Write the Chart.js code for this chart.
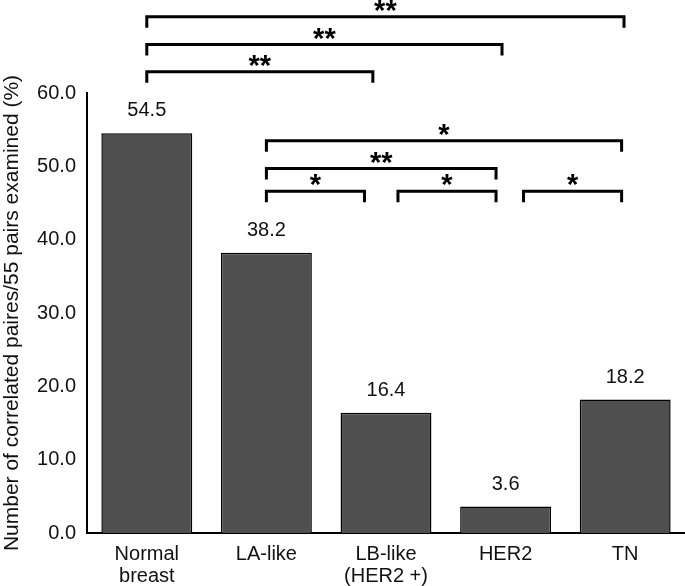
<!DOCTYPE html>
<html>
<head>
<meta charset="utf-8">
<script src="https://cdn.jsdelivr.net/npm/chart.js@4"></script>
<style>
  html, body { margin: 0; padding: 0; background: #fff; }
  #wrap { width: 685px; height: 586px; position: relative; }
</style>
</head>
<body>
<div id="wrap"><canvas id="grafico"></canvas></div>
<script>
// datos del grafico
const categorias = [['Normal', 'breast'], 'LA-like', ['LB-like', '(HER2 +)'], 'HER2', 'TN'];
const valores = [54.5, 38.2, 16.4, 3.6, 18.2];
const tituloEjeY = 'Number of correlated paires/55 pairs examined (%)';

// corchetes de significancia (posicion en indices de categoria, nivel en unidades del eje Y)
const corcheteDesde = [0, 0, 0, 1, 1, 1, 2.1, 3.15];
const corcheteHasta = [3.99, 2.97, 1.89, 3.97, 2.92, 1.82, 2.92, 3.97];
const corcheteNivel = [70.4, 66.6, 62.9, 53.5, 49.7, 46.6, 46.6, 46.6];
const corcheteTexto = ['**', '**', '**', '*', '**', '*', '*', '*'];

const fuente = '"Liberation Sans", Arial, sans-serif';

// etiquetas de valor sobre cada barra
const etiquetasValor = {
    id: 'etiquetasValor',
    afterDatasetsDraw(chart) {
        const ctx = chart.ctx;
        const meta = chart.getDatasetMeta(0);
        ctx.save();
        ctx.fillStyle = '#111';
        ctx.font = '20px ' + fuente;
        ctx.textAlign = 'center';
        ctx.textBaseline = 'alphabetic';
        meta.data.forEach((barra, i) => {
            ctx.fillText(valores[i].toFixed(1), barra.x, barra.y - 17);
        });
        ctx.restore();
    }
};

// corchetes con asteriscos
const corchetes = {
    id: 'corchetes',
    afterDraw(chart) {
        const ctx = chart.ctx;
        const x = chart.scales.x;
        const y = chart.scales.y;
        const paso = x.getPixelForValue(1) - x.getPixelForValue(0);
        const px = v => x.getPixelForValue(0) + v * paso;
        ctx.save();
        ctx.strokeStyle = '#000';
        ctx.lineWidth = 3;
        ctx.lineCap = 'butt';
        ctx.lineJoin = 'miter';
        ctx.fillStyle = '#000';
        ctx.font = 'bold 29px ' + fuente;
        ctx.textAlign = 'center';
        ctx.textBaseline = 'alphabetic';
        corcheteNivel.forEach((nivel, i) => {
            const x1 = px(corcheteDesde[i]);
            const x2 = px(corcheteHasta[i]);
            const yl = y.getPixelForValue(nivel);
            const yb = y.getPixelForValue(nivel - 1.5);
            ctx.beginPath();
            ctx.moveTo(x1, yb);
            ctx.lineTo(x1, yl);
            ctx.lineTo(x2, yl);
            ctx.lineTo(x2, yb);
            ctx.stroke();
            ctx.fillText(corcheteTexto[i], (x1 + x2) / 2, yl + 3);
        });
        ctx.restore();
    }
};

new Chart(document.getElementById('grafico'), {
    type: 'bar',
    data: {
        labels: categorias,
        datasets: [{
            data: valores,
            backgroundColor: '#4f4f4f',
            borderColor: '#000',
            borderWidth: 1.5,
            barPercentage: 0.76,
            categoryPercentage: 1.0
        }]
    },
    options: {
        responsive: true,
        maintainAspectRatio: false,
        animation: false,
        layout: { padding: { top: 93, right: 0, left: 0, bottom: 0 } },
        plugins: {
            legend: { display: false },
            tooltip: { enabled: false }
        },
        scales: {
            x: {
                grid: { display: false, drawTicks: false },
                border: { color: '#000', width: 2 },
                ticks: {
                    color: '#111',
                    font: { family: fuente, size: 20, lineHeight: 1.1 },
                    padding: 10,
                    maxRotation: 0
                },
                afterFit(escala) { escala.height = 53; }
            },
            y: {
                min: 0,
                max: 60,
                grid: { display: false, drawTicks: false },
                border: { color: '#000', width: 2 },
                ticks: {
                    stepSize: 10,
                    color: '#111',
                    padding: 11,
                    font: { family: fuente, size: 20 },
                    callback: v => v.toFixed(1)
                },
                title: {
                    display: true,
                    text: tituloEjeY,
                    color: '#111',
                    font: { family: fuente, size: 21 },
                    padding: { top: 0, bottom: 0 }
                },
                afterFit(escala) { escala.width = 87; }
            }
        }
    },
    plugins: [etiquetasValor, corchetes]
});
</script>
</body>
</html>
